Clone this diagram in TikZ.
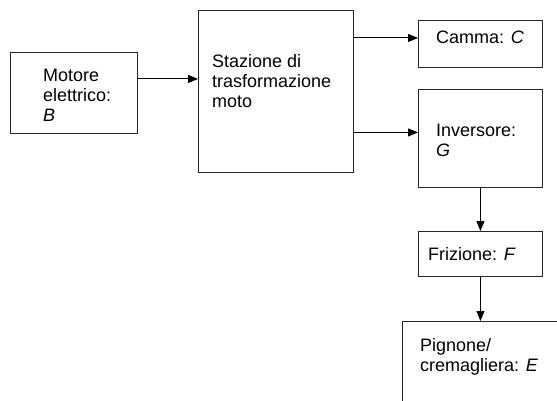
\documentclass[tikz,border=0pt]{standalone}
\usepackage{fontspec}
\setmainfont{Liberation Sans}
\usetikzlibrary{arrows.meta}
\tikzset{
    box/.style={draw=black!85, rectangle, anchor=north west, inner sep=0pt, line width=0.9pt},
    txt/.style={anchor=north west, inner sep=0pt, align=left, font=\fontsize{18}{20}\selectfont},
    flow/.style={-{Triangle[length=10pt, width=8pt]}, line width=0.9pt}
}
\begin{document}
\begin{tikzpicture}[x=1pt, y=-1pt]
    \useasboundingbox (0,0) rectangle (557,401);
    \clip (0,0) rectangle (557,401);

    % blocks
    \node[box, minimum width=127pt, minimum height=81pt] (motor) at (10,52) {};
    \node[box, minimum width=155pt, minimum height=162pt] (station) at (198,10) {};
    \node[box, minimum width=124pt, minimum height=47pt] (cam) at (418,20) {};
    \node[box, minimum width=124pt, minimum height=98pt] (inverter) at (418,89) {};
    \node[box, minimum width=124pt, minimum height=45pt] (clutch) at (418,231) {};
    \node[box, minimum width=170pt, minimum height=100pt] (rack) at (402,321) {};

    % texts
    \node[txt] (motor-text) at (43,69) {Motore\\elettrico:\\\textit{B}};
    \node[txt] (station-text) at (212,54) {Stazione di\\trasformazione\\moto};
    \node[txt] (cam-text) at (436,31) {Camma: \textit{C}};
    \node[txt] (inverter-text) at (436,124) {Inversore:\\\textit{G}};
    \node[txt] (clutch-text) at (428,247) {Frizione: \textit{F}};
    \node[txt] (rack-text) at (420,338) {Pignone/\\cremagliera: \textit{E}};

    % connections
    \draw[flow] ([yshift=14pt]motor.east) -- ([yshift=14pt]motor.east -| station.west);
    \draw[flow] ([yshift=6pt]cam.west -| station.east) -- ([yshift=6pt]cam.west);
    \draw[flow] ([yshift=6pt]inverter.west -| station.east) -- ([yshift=6pt]inverter.west);
    \draw[flow] (inverter.south) -- (clutch.north);
    \draw[flow] (clutch.south) -- (clutch.south |- rack.north);
\end{tikzpicture}
\end{document}
